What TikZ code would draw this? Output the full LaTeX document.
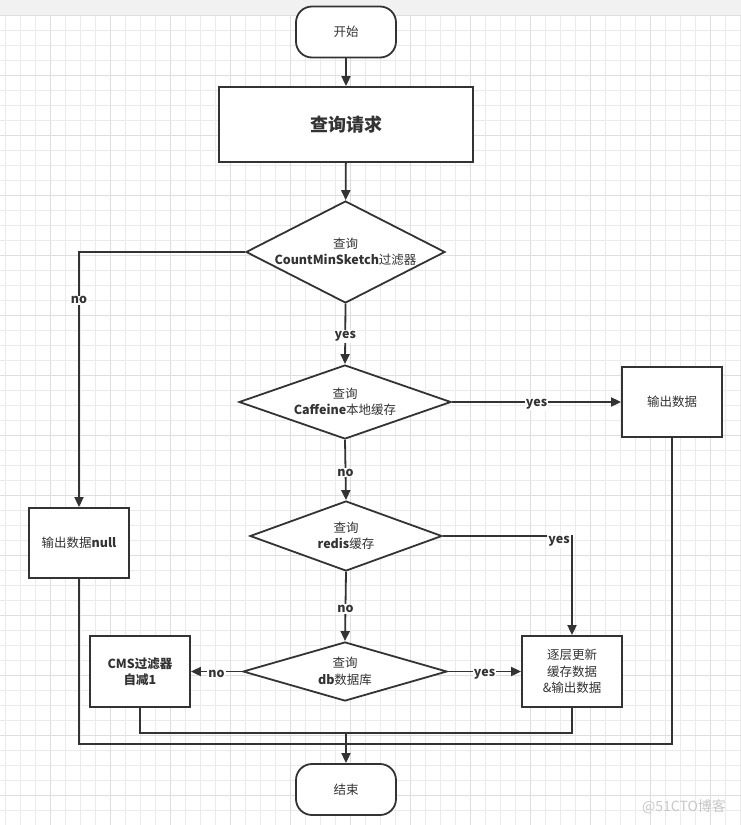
\documentclass[tikz,border=0pt]{standalone}
\usepackage{fontspec}
\setmainfont{Noto Sans CJK SC}
\usetikzlibrary{shapes.geometric, arrows.meta}
\definecolor{lc}{HTML}{333333}
\definecolor{gridl}{HTML}{EBEBEB}
\definecolor{gridd}{HTML}{DEDEDE}
\definecolor{band}{HTML}{F1F1F1}
\newcommand\lt[1]{\textbf{#1}}
\begin{document}
\begin{tikzpicture}[x=1pt,y=-1pt,
  txt/.style={text=lc, font=\fontsize{12.5}{16.5}\selectfont, align=center},
  box/.style={txt, draw=lc, line width=1.8pt, fill=white, inner sep=0pt},
  term/.style={box, rounded corners=16pt, minimum width=100pt, minimum height=51pt},
  dia/.style={draw=lc, line width=1.8pt, fill=white, diamond, inner sep=0pt},
  ln/.style={draw=lc, line width=1.8pt},
  arr/.style={ln, -{Triangle[length=10pt,width=9pt]}},
  lbl/.style={fill=white, text=lc, inner sep=1pt, yshift=-2.5pt, font=\fontsize{12.5}{14}\selectfont\bfseries}]
\useasboundingbox (0,0) rectangle (741,825);
% background grid
\fill[white] (0,0) rectangle (741,825);
\fill[band] (0,0) rectangle (741,15);
\foreach \x in {5,20,...,740} \draw[gridl, line width=0.9pt] (\x,15) -- (\x,825);
\foreach \y in {15,30,...,825} \draw[gridl, line width=0.9pt] (0,\y) -- (741,\y);
\foreach \x in {50,110,...,740} \draw[gridd, line width=0.9pt] (\x,15) -- (\x,825);
\foreach \y in {15,75,...,825} \draw[gridd, line width=0.9pt] (0,\y) -- (741,\y);

% nodes
\node[term] (start) at (346,32) {开始};
\node[box, minimum width=254pt, minimum height=75pt, font=\fontsize{18}{20}\selectfont\bfseries] (q) at (346,124.5) {查询请求};
\node[dia, minimum width=199pt, minimum height=102pt,
  label={[txt]center:查询\\\lt{CountMinSketch}过滤器}] (d1) at (345.5,252) {};
\node[dia, minimum width=212pt, minimum height=74pt,
  label={[txt]center:查询\\\lt{Caffeine}本地缓存}] (d2) at (345,402) {};
\node[box, minimum width=100pt, minimum height=70pt] (out) at (672,402) {输出数据};
\node[dia, minimum width=192pt, minimum height=70pt,
  label={[txt]center:查询\\\lt{redis}缓存}] (d3) at (346,536) {};
\node[box, minimum width=100pt, minimum height=70pt] (null) at (79,543) {输出数据\lt{null}};
\node[dia, minimum width=204pt, minimum height=59pt,
  label={[txt]center:查询\\\lt{db}数据库}] (d4) at (345,671.5) {};
\node[box, minimum width=100pt, minimum height=71pt] (cms) at (140,671.5) {\lt{CMS过滤器}\\\lt{自减1}};
\node[box, minimum width=100pt, minimum height=71pt] (upd) at (572,671.5) {逐层更新\\缓存数据\\\&输出数据};
\node[term] (end) at (346,789.5) {结束};
\coordinate (j1) at (346,733);
\coordinate (j2) at (346,744);

% connectors
\draw[arr] (start) -- (q);
\draw[arr] (q) -- (d1);
\draw[arr] (d1.south) -- node[lbl]{yes} (d2.north);
\draw[arr] (d1.west) -| node[lbl, pos=0.59]{no} (null.north);
\draw[arr] (d2.east) -- node[lbl]{yes} (out.west);
\draw[arr] (d2.south) -- node[lbl]{no} (d3.north);
\draw[arr] (d3.east) -| node[lbl, pos=0.45, yshift=-3pt]{yes} (upd.north);
\draw[arr] (d3.south) -- node[lbl]{no} (d4.north);
\draw[arr] (d4.west) -- node[lbl]{no} (cms.east);
\draw[arr] (d4.east) -- node[lbl]{yes} (upd.west);
\draw[ln] (cms.south) -- (cms.south |- j1) -- (upd.south |- j1) -- (upd.south);
\draw[ln] (null.south) -- (null.south |- j2) -- (out.south |- j2) -- (out.south);
\draw[arr] (j1) -- (end.north);

% watermark
\node[text=black!22, font=\fontsize{14}{14}\selectfont] (wm) at (684,807) {@51CTO博客};
\end{tikzpicture}
\end{document}
